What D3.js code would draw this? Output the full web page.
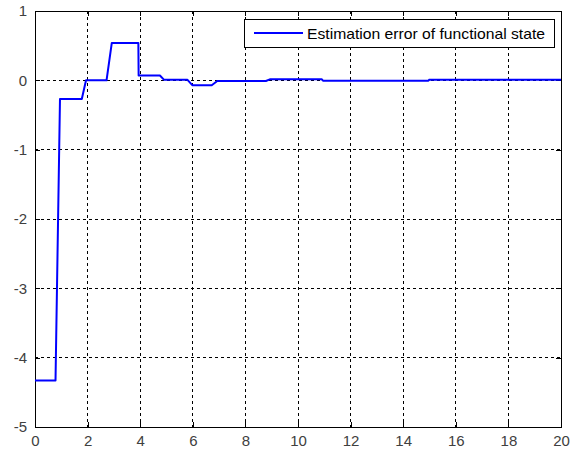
<!DOCTYPE html>
<html>
<head>
<meta charset="utf-8">
<script src="https://cdn.jsdelivr.net/npm/d3@7"></script>
<style>
  body { margin: 0; background: #fff; }
  svg { display: block; }
</style>
</head>
<body>
<svg id="chart" width="577" height="450"></svg>
<script>
// data
const timeVals = [0, 0.78, 0.95, 1.78, 1.94, 2.72, 2.92, 3.93, 3.94, 4.75, 4.9, 5.79, 5.98, 6.72, 6.93, 8.78, 8.93, 10.9, 10.95, 14.95, 15.0, 20];
const errVals = [-4.33, -4.33, -0.27, -0.27, 0, 0, 0.54, 0.54, 0.07, 0.07, 0.01, 0.01, -0.07, -0.07, -0.01, -0.01, 0.015, 0.015, -0.005, -0.005, 0.01, 0.01];
const xTicks = [0, 2, 4, 6, 8, 10, 12, 14, 16, 18, 20];
const yTicks = [-5, -4, -3, -2, -1, 0, 1];
const legendLabel = 'Estimation error of functional state';

const svg = d3.select('#chart');
const margin = { top: 11, right: 16, bottom: 23, left: 35 };
const width = 577, height = 450;

const x = d3.scaleLinear().domain([0, 20]).range([margin.left, width - margin.right]);
const y = d3.scaleLinear().domain([-5, 1]).range([height - margin.bottom, margin.top]);

const font = 'Liberation Sans, Arial, sans-serif';
const plainNum = d => String(d); // hyphen-minus like the original

// grid
svg.append('g')
    .selectAll('line')
    .data(xTicks.slice(1, -1))
    .join('line')
    .attr('x1', d => x(d)).attr('x2', d => x(d))
    .attr('y1', y(1)).attr('y2', y(-5))
    .attr('stroke', '#000')
    .attr('stroke-width', 1)
    .attr('stroke-dasharray', '3,3')
    .attr('shape-rendering', 'crispEdges');

svg.append('g')
    .selectAll('line')
    .data(yTicks.slice(1, -1))
    .join('line')
    .attr('x1', x(0)).attr('x2', x(20))
    .attr('y1', d => y(d)).attr('y2', d => y(d))
    .attr('stroke', '#000')
    .attr('stroke-width', 1)
    .attr('stroke-dasharray', '3,3')
    .attr('shape-rendering', 'crispEdges');

// axes (ticks inward, on all four sides)
const styleAxis = g => {
    g.select('.domain').attr('stroke', '#000');
    g.selectAll('.tick line').attr('stroke', '#000');
    g.attr('shape-rendering', 'crispEdges');
};

svg.append('g')
    .attr('transform', `translate(0,${y(-5)})`)
    .call(d3.axisBottom(x).tickValues(xTicks).tickSize(-5).tickSizeOuter(0).tickPadding(8).tickFormat(plainNum))
    .call(styleAxis)
    .call(g => g.selectAll('text').attr('font-family', font).attr('font-size', 15).attr('fill', '#404040'));

svg.append('g')
    .attr('transform', `translate(${x(0)},0)`)
    .call(d3.axisLeft(y).tickValues(yTicks).tickSize(-5).tickSizeOuter(0).tickPadding(8).tickFormat(plainNum))
    .call(styleAxis)
    .call(g => g.selectAll('text').attr('font-family', font).attr('font-size', 15).attr('fill', '#404040'));

svg.append('g')
    .attr('transform', `translate(0,${y(1)})`)
    .call(d3.axisTop(x).tickValues(xTicks).tickSize(-5).tickSizeOuter(0).tickFormat(''))
    .call(styleAxis);

svg.append('g')
    .attr('transform', `translate(${x(20)},0)`)
    .call(d3.axisRight(y).tickValues(yTicks).tickSize(-5).tickSizeOuter(0).tickFormat(''))
    .call(styleAxis);

// curve
const series = timeVals.map((t, i) => ({ t: t, v: errVals[i] }));
const line = d3.line()
    .x(d => x(d.t))
    .y(d => y(d.v));

svg.append('path')
    .datum(series)
    .attr('fill', 'none')
    .attr('stroke', '#0000ff')
    .attr('stroke-width', 2)
    .attr('stroke-linejoin', 'round')
    .attr('d', line);

// legend
const lg = svg.append('g');
lg.append('rect')
    .attr('x', 244.5).attr('y', 19.5)
    .attr('width', 310).attr('height', 28)
    .attr('fill', '#fff')
    .attr('stroke', '#000')
    .attr('stroke-width', 1);
lg.append('line')
    .attr('x1', 254).attr('x2', 303)
    .attr('y1', 33).attr('y2', 33)
    .attr('stroke', '#0000ff')
    .attr('stroke-width', 2);
lg.append('text')
    .attr('x', 307)
    .attr('y', 39)
    .attr('font-family', font)
    .attr('font-size', 15)
    .attr('textLength', 238)
    .attr('lengthAdjust', 'spacingAndGlyphs')
    .attr('fill', '#000')
    .text(legendLabel);
</script>
</body>
</html>
